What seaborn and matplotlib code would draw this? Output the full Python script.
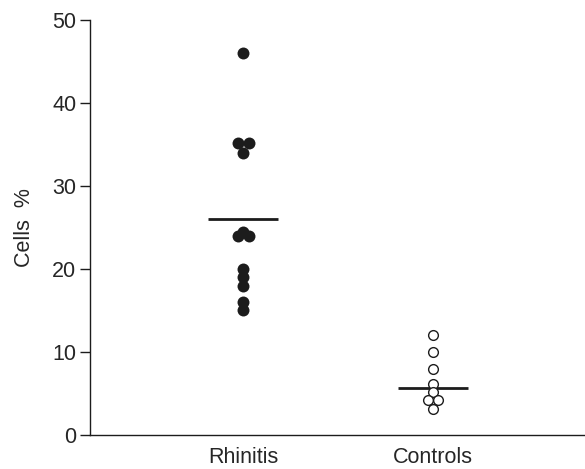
import numpy as np
import pandas as pd
import seaborn as sns
import matplotlib.pyplot as plt

groups = ["Rhinitis", "Controls"]
rhinitis_vals = [46, 35.2, 35.2, 34, 24.5, 24, 24, 20, 19, 18, 16, 15]
controls_vals = [12, 10, 8, 6.2, 5.2, 4.2, 4.2, 3.1]
group_means = [26, 5.7]
y_ticks = [0, 10, 20, 30, 40, 50]

df = pd.DataFrame({
    "group": ["Rhinitis"] * len(rhinitis_vals) + ["Controls"] * len(controls_vals),
    "cells": rhinitis_vals + controls_vals,
})

sns.set_style("ticks")
plt.rcParams['font.family'] = ['Liberation Sans', 'DejaVu Sans']

fig = plt.figure(figsize=(5.85, 4.69), dpi=100)
ax = fig.add_axes([0.154, 0.0725, 0.846, 0.885])
ax.set_xlim(-0.805, 1.8)
ax.set_ylim(0, 50)

ink = "#1c1c1c"
sns.stripplot(data=df[df["group"] == "Rhinitis"], x="group", y="cells",
              order=groups, jitter=False, color=ink, size=8.6, ax=ax)
sns.stripplot(data=df[df["group"] == "Controls"], x="group", y="cells",
              order=groups, jitter=False, color="white", edgecolor=ink,
              linewidth=1, size=7, ax=ax)
ax.set_xlim(-0.805, 1.8)

# spread tied values side by side (about one marker width apart)
px_per_unit = ax.transData.transform((1, 0))[0] - ax.transData.transform((0, 0))[0]
for coll in ax.collections:
    offs = np.asarray(coll.get_offsets(), dtype=float).copy()
    if len(offs) == 0:
        continue
    gap_px = 9.5 if np.round(offs[0, 0]) == 1 else 11
    step = gap_px / px_per_unit
    for yv in np.unique(offs[:, 1]):
        idx = np.where(offs[:, 1] == yv)[0]
        if len(idx) > 1:
            offs[idx, 0] += (np.arange(len(idx)) - (len(idx) - 1) / 2) * step
    coll.set_offsets(offs)

# mean bars
for i, m in enumerate(group_means):
    ax.hlines(m, i - 0.185, i + 0.185, color=ink, lw=2)

ax.set_yticks(y_ticks)
ax.set_xlabel("")
ax.set_ylabel("Cells  %", fontsize=15.5, labelpad=12)
ax.tick_params(axis="y", length=7, width=1, labelsize=15.5, pad=3, color=ink)
ax.tick_params(axis="x", length=0, labelsize=15.5, pad=9)
sns.despine(ax=ax)
for s in ["left", "bottom"]:
    ax.spines[s].set_color(ink)
    ax.spines[s].set_linewidth(1)

fig.savefig("out.png", dpi=100)
